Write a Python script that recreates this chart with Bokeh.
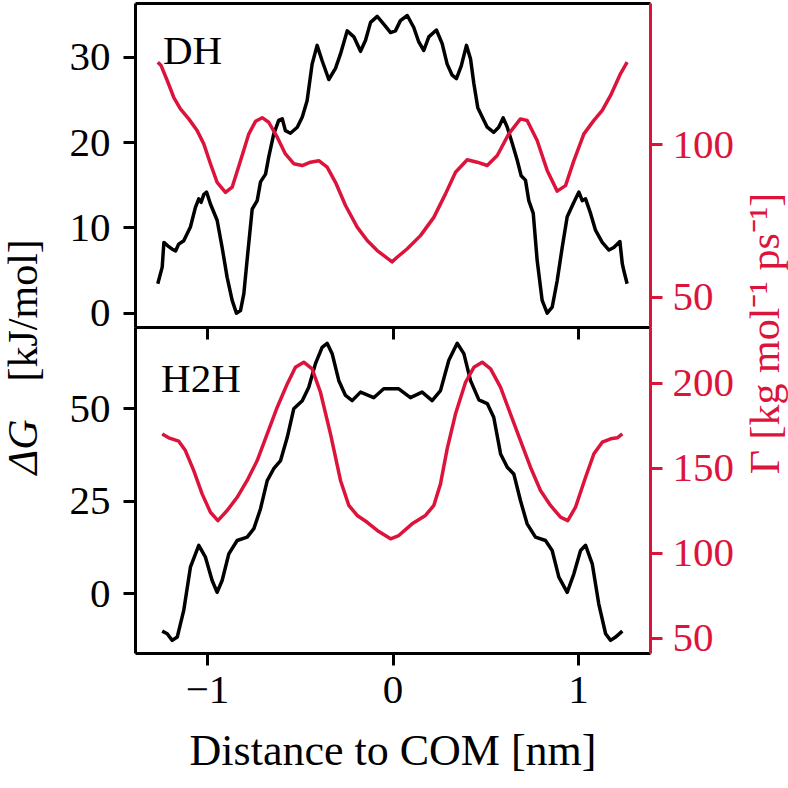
import numpy as np
from bokeh.plotting import figure
from bokeh.models import Range1d, LinearAxis, FixedTicker
from bokeh.layouts import row, column
from bokeh.embed import file_html
from bokeh.resources import INLINE
from bokeh.core.properties import value

FONT = "Liberation Serif"
RED = "#DC143C"

# ---------------- data ----------------
# DH panel: free energy (black)
dh_dist = [-1.268, -1.244, -1.235, -1.214, -1.190, -1.172, -1.155, -1.128, -1.092, -1.065,
           -1.047, -1.034, -1.020, -1.005, -0.984, -0.948, -0.921, -0.894, -0.867, -0.844,
           -0.822, -0.804, -0.783, -0.759, -0.732, -0.714, -0.687, -0.670, -0.643, -0.616,
           -0.597, -0.580, -0.553, -0.516, -0.489, -0.463, -0.436, -0.409, -0.382, -0.346,
           -0.310, -0.283, -0.247, -0.211, -0.175, -0.148, -0.121, -0.085, -0.050, -0.013,
           0.013, 0.040, 0.077, 0.112, 0.139, 0.166, 0.193, 0.234, 0.265, 0.292,
           0.319, 0.342, 0.368, 0.396, 0.418, 0.436, 0.457, 0.481, 0.508, 0.543,
           0.570, 0.594, 0.616, 0.643, 0.670, 0.691, 0.714, 0.732, 0.756, 0.777,
           0.804, 0.831, 0.858, 0.885, 0.912, 0.939, 0.975, 1.002, 1.020, 1.038,
           1.065, 1.092, 1.128, 1.164, 1.190, 1.223, 1.236, 1.244, 1.262]
dh_dg = [3.45, 5.4, 8.3, 7.9, 7.5, 7.3, 8.1, 8.5, 10.1, 12.4,
         13.4, 13.0, 13.9, 14.2, 12.8, 10.9, 7.7, 4.2, 1.5, 0.0,
         0.3, 2.3, 7.0, 12.2, 13.2, 15.4, 16.3, 18.3, 21.0, 22.6,
         22.8, 21.4, 21.1, 21.8, 23.0, 24.9, 29.2, 31.4, 29.6, 27.4,
         28.7, 30.4, 33.1, 32.4, 30.7, 32.0, 34.1, 34.8, 33.9, 32.9,
         33.1, 34.3, 34.9, 33.5, 31.8, 30.8, 32.4, 33.2, 31.6, 29.2,
         27.9, 27.5, 29.0, 31.4, 29.8, 26.9, 24.1, 23.0, 21.8, 21.2,
         21.8, 22.9, 21.8, 19.9, 17.9, 16.1, 15.6, 13.2, 11.7, 6.2,
         1.5, 0.0, 0.7, 3.8, 7.7, 11.3, 13.0, 14.2, 13.2, 13.4,
         11.7, 9.7, 8.3, 7.4, 7.7, 8.4, 5.8, 5.0, 3.45]

# DH panel: friction (red)
dh_gdist = [-1.268, -1.250, -1.217, -1.182, -1.146, -1.101, -1.056, -1.020, -0.984, -0.948,
            -0.903, -0.867, -0.822, -0.777, -0.741, -0.705, -0.670, -0.624, -0.580, -0.535,
            -0.489, -0.445, -0.400, -0.355, -0.310, -0.256, -0.193, -0.139, -0.085, -0.005,
            0.022, 0.077, 0.148, 0.220, 0.283, 0.337, 0.400, 0.454, 0.508, 0.562,
            0.624, 0.687, 0.723, 0.777, 0.831, 0.885, 0.930, 0.975, 1.029, 1.083,
            1.128, 1.173, 1.226, 1.262]
dh_gamma = [127.1, 126.0, 121.1, 115.6, 111.8, 108.5, 104.7, 100.3, 93.8, 87.7,
            84.4, 86.1, 94.8, 103.6, 107.7, 108.9, 107.4, 102.5, 97.0, 93.8,
            93.2, 94.3, 94.8, 92.7, 87.7, 80.1, 73.0, 68.6, 65.3, 61.6,
            63.1, 65.9, 70.2, 76.2, 83.9, 91.0, 95.1, 94.3, 93.2, 96.5,
            103.6, 108.5, 108.0, 101.4, 91.6, 84.8, 86.6, 94.8, 103.6, 108.0,
            111.3, 116.2, 123.3, 127.1]

# H2H panel: free energy (black)
h2h_dist = [-1.244, -1.217, -1.190, -1.163, -1.128, -1.092, -1.047, -1.011, -0.975, -0.948,
            -0.921, -0.885, -0.840, -0.786, -0.750, -0.714, -0.678, -0.643, -0.606, -0.570,
            -0.535, -0.489, -0.454, -0.418, -0.382, -0.355, -0.328, -0.292, -0.256, -0.220,
            -0.175, -0.104, -0.050, -0.013, 0.031, 0.094, 0.157, 0.211, 0.256, 0.301,
            0.346, 0.382, 0.418, 0.463, 0.508, 0.543, 0.580, 0.616, 0.651, 0.687,
            0.723, 0.768, 0.822, 0.858, 0.894, 0.939, 0.975, 1.011, 1.038, 1.074,
            1.109, 1.146, 1.173, 1.200, 1.236]
h2h_dg = [-10.1, -10.8, -12.6, -11.7, -4.5, 7.2, 13.1, 9.9, 3.6, 0.4,
          3.6, 10.8, 14.4, 15.3, 17.6, 23.0, 30.6, 33.8, 36.0, 42.3,
          50.0, 52.2, 55.8, 62.2, 66.6, 67.7, 64.9, 57.6, 53.6, 52.2,
          54.5, 53.0, 55.4, 55.4, 55.4, 53.0, 54.5, 52.2, 54.9, 63.1,
          67.7, 64.9, 57.6, 52.4, 51.4, 47.7, 37.8, 34.2, 32.4, 25.2,
          18.9, 15.3, 14.4, 11.7, 4.5, 0.4, 5.4, 11.7, 13.1, 8.1,
          -2.7, -10.8, -12.6, -11.7, -10.1]

# H2H panel: friction (red)
h2h_gdist = [-1.244, -1.209, -1.155, -1.119, -1.074, -1.029, -0.984, -0.944, -0.894, -0.840,
             -0.786, -0.732, -0.678, -0.624, -0.570, -0.526, -0.481, -0.436, -0.391, -0.337,
             -0.283, -0.238, -0.193, -0.139, -0.085, -0.013, 0.031, 0.103, 0.175, 0.220,
             0.256, 0.292, 0.337, 0.391, 0.436, 0.481, 0.526, 0.580, 0.633, 0.687,
             0.741, 0.795, 0.849, 0.903, 0.942, 0.984, 1.038, 1.083, 1.128, 1.173,
             1.209, 1.236]
h2h_gamma = [170.2, 167.9, 165.9, 160.4, 148.6, 134.9, 124.1, 119.2, 125.1, 132.9,
             142.8, 154.5, 170.2, 185.9, 199.6, 209.4, 212.4, 208.5, 194.7, 170.2,
             142.8, 128.1, 122.2, 118.2, 113.4, 108.5, 110.4, 117.3, 122.2, 128.1,
             140.8, 161.4, 182.0, 200.6, 209.4, 212.4, 208.5, 197.6, 182.0, 166.3,
             150.6, 136.9, 128.1, 121.2, 119.2, 127.1, 144.7, 158.5, 165.3, 167.3,
             167.9, 170.2]

# ticks and labels
x_ticks = [-1, 0, 1]
x_tick_text = {-1: "\u22121", 0: "0", 1: "1"}
dh_dg_ticks = [0, 10, 20, 30]
dh_gamma_ticks = [50, 100]
h2h_dg_ticks = [0, 25, 50]
h2h_gamma_ticks = [50, 100, 150, 200]
panel_names = ["DH", "H2H"]
x_label = "Distance to COM [nm]"
y_label_sym = "\u0394G"
y_label_unit = "[kJ/mol]"
y2_label = "\u0393 [kg mol\u207b\u00b9 ps\u207b\u00b9]"

# ---------------- layout constants ----------------
FRAME_W = 515
BORDER_L = 75
BORDER_R = 88
TICK_FS = "41px"
OVERLAP = 22   # extra room under the upper panel so its lowest tick label is not clipped
LEFT_W = 60
RIGHT_X0 = LEFT_W + BORDER_L + FRAME_W + BORDER_R

XR = Range1d(-1.388, 1.388)


def style_axis(ax, color, ticks, labels=True, tick_out=12, tick_in=0, standoff=10):
    ax.ticker = FixedTicker(ticks=ticks)
    ax.axis_line_color = color
    ax.axis_line_width = 3
    ax.major_tick_line_color = color
    ax.major_tick_line_width = 3
    ax.major_tick_out = tick_out
    ax.major_tick_in = tick_in
    ax.minor_tick_out = 0
    ax.minor_tick_in = 0
    ax.major_label_text_font = FONT
    ax.major_label_text_color = color
    if labels:
        ax.major_label_text_font_size = TICK_FS
        ax.major_label_standoff = standoff
    else:
        ax.major_label_text_font_size = "0px"
        ax.major_label_standoff = 0
        ax.major_label_overrides = {t: "" for t in ticks}


def make_panel(y_range, g_range, frame_h, b_top, b_bottom):
    p = figure(frame_width=FRAME_W, frame_height=frame_h, x_range=XR, y_range=y_range,
               x_axis_location=None, y_axis_location=None,
               output_backend="svg", toolbar_location=None,
               min_border_left=BORDER_L, min_border_right=BORDER_R,
               min_border_top=b_top, min_border_bottom=b_bottom)
    p.extra_y_ranges = {"g": g_range}
    p.outline_line_color = None
    p.xgrid.grid_line_color = None
    p.ygrid.grid_line_color = None
    return p


# ---------------- top panel (DH) ----------------
top = make_panel(Range1d(-1.68, 36.31), Range1d(40.06, 146.36), 324, 3, OVERLAP)
top.margin = (0, 0, -OVERLAP, 0)
ax = LinearAxis(); style_axis(ax, "black", dh_dg_ticks, standoff=13); top.add_layout(ax, "left")
ax = LinearAxis(y_range_name="g"); style_axis(ax, RED, dh_gamma_ticks); top.add_layout(ax, "right")
ax = LinearAxis(); style_axis(ax, "black", x_ticks, labels=False, tick_out=0); top.add_layout(ax, "above")
ax = LinearAxis(); style_axis(ax, "black", x_ticks, labels=False, tick_out=0); top.add_layout(ax, "below")

top.line(dh_dist, dh_dg, line_color="black", line_width=3.5, line_join="round")
top.line(dh_gdist, dh_gamma, line_color=RED, line_width=3.5, line_join="round", y_range_name="g")
top.text(x=[-1.24], y=[30.8], text=[panel_names[0]], text_font=value(FONT),
         text_font_size="41px", text_baseline="alphabetic", text_align="left", text_color="black")

# ---------------- bottom panel (H2H) ----------------
bot = make_panel(Range1d(-16.14, 71.97), Range1d(41.0, 232.8), 326, 0, 135)
bot.background_fill_alpha = 0
bot.border_fill_alpha = 0
ax = LinearAxis(); style_axis(ax, "black", h2h_dg_ticks, standoff=13); bot.add_layout(ax, "left")
ax = LinearAxis(y_range_name="g"); style_axis(ax, RED, h2h_gamma_ticks); bot.add_layout(ax, "right")
ax = LinearAxis(); style_axis(ax, "black", x_ticks, labels=False, tick_out=0, tick_in=12); bot.add_layout(ax, "above")
ax = LinearAxis(); style_axis(ax, "black", x_ticks, standoff=11)
ax.major_label_overrides = x_tick_text
ax.axis_label = x_label
ax.axis_label_text_font = FONT
ax.axis_label_text_font_size = "44px"
ax.axis_label_text_font_style = "normal"
ax.axis_label_text_color = "black"
ax.axis_label_standoff = 20
bot.add_layout(ax, "below")

bot.line(h2h_dist, h2h_dg, line_color="black", line_width=3.5, line_join="round")
bot.line(h2h_gdist, h2h_gamma, line_color=RED, line_width=3.5, line_join="round", y_range_name="g")
bot.text(x=[-1.25], y=[58.2], text=[panel_names[1]], text_font=value(FONT),
         text_font_size="41px", text_baseline="alphabetic", text_align="left", text_color="black")


# ---------------- side label strips ----------------
def label_strip(x0, x1):
    p = figure(width=x1 - x0, height=788, x_range=Range1d(x0, x1), y_range=Range1d(788, 0),
               x_axis_location=None, y_axis_location=None, output_backend="svg",
               toolbar_location=None, min_border=0)
    p.outline_line_color = None
    p.xgrid.grid_line_color = None
    p.ygrid.grid_line_color = None
    return p


left = label_strip(0, LEFT_W)
left.text(x=[22], y=[474], text=[y_label_sym], angle=np.pi / 2, text_align="left",
          text_baseline="alphabetic", text_font=value(FONT), text_font_size="42px",
          text_font_style="italic", text_color="black")
left.text(x=[22], y=[381], text=[y_label_unit], angle=np.pi / 2, text_align="left",
          text_baseline="alphabetic", text_font=value(FONT), text_font_size="42px",
          text_color="black")

right = label_strip(RIGHT_X0, 788)
right.text(x=[764], y=[333], text=[y2_label], angle=np.pi / 2, text_align="center",
           text_baseline="alphabetic", text_font=value(FONT), text_font_size="42px",
           text_color=RED)

layout = row(left, column(top, bot, spacing=0), right, spacing=0)

open("out.html", "w").write(file_html(layout, INLINE))
